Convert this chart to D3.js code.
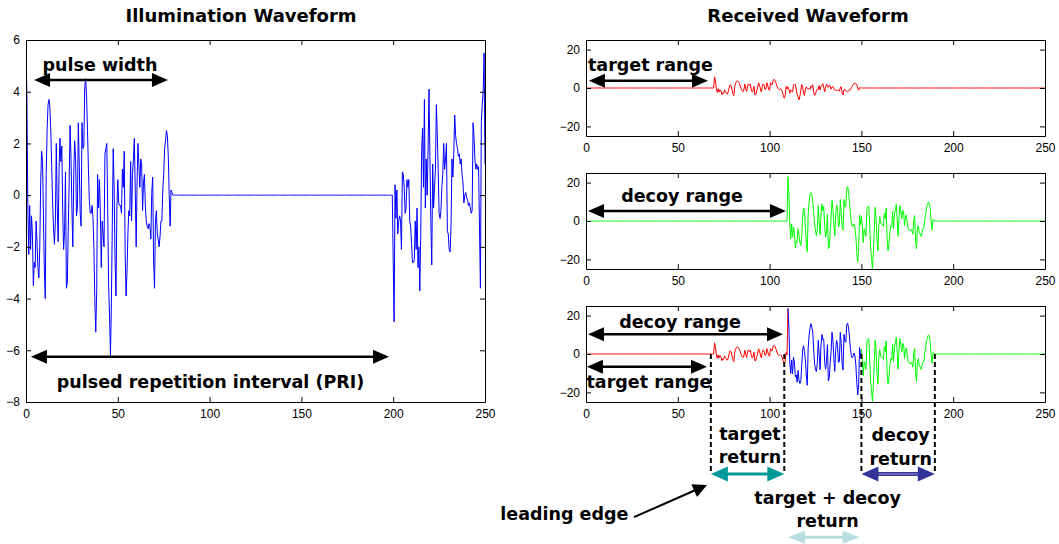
<!DOCTYPE html>
<html>
<head>
<meta charset="utf-8">
<script src="https://cdn.jsdelivr.net/npm/d3@7/dist/d3.min.js"></script>
<style>
body { margin: 0; background: #fff; }
svg text { font-family: "DejaVu Sans", Verdana, sans-serif; }
.tick text { font-family: "Liberation Sans", Arial, sans-serif; font-size: 12px; fill: #000; }
.tick line, .domain { stroke: #000; }
</style>
</head>
<body>
<svg id="chart" width="1059" height="544"></svg>
<script>
// samples every half unit
const step = 0.5
// first pulse, t = 0 .. 80
const pulseA = [
  5.8, 3.7, -0.4, -2.3, -0.4, -2.1, -0.8, -1.5, -3.5, -2.6,
  -2.8, -1.0, -1.8, -2.8, -3.2, -2.0, 0.5, 1.7, 1.3, -0.8,
  -2.9, -4.0, 0.8, 2.5, 3.5, 3.7, 3.4, 2.5, 1.1, -0.3,
  -1.3, -1.9, -1.0, 2.0, -0.4, -1.8, 1.0, 2.2, 1.3, 1.9,
  -0.6, -2.1, -1.4, 0.9, -3.6, -3.4, -1.4, 0.5, 2.7, 1.5,
  -0.5, -2.0, 0.8, 2.1, 1.5, -0.8, -0.5, 2.8, 1.2, -0.7,
  -1.2, 2.8, 1.8, 1.9, 4.2, 4.5, 3.8, 2.5, 1.0, -0.2,
  -0.7, -0.7, -0.4, -0.9, -2.1, -4.1, -5.3, -3.7, 0.8, -0.5,
  0.6, -0.7, -2.8, -1.0, -1.5, -2.0, 1.6, 1.8, 2.0, -0.5,
  -3.5, -4.6, -6.2, -4.2, -1.2, 1.8, 0.3, -2.5, -3.9, -0.5,
  0.6, -0.3, -0.4, -0.4, -0.7, 1.0, 0.3, 1.7, -2.2, -3.9,
  -3.0, -1.5, -0.6, -0.8, 1.3, -1.0, 0.8, 1.4, 2.2, 0.2,
  -2.0, 0.5, 2.0, 1.2, 0.3, 1.4, 1.2, -0.6, 0.5, 0.8,
  -0.4, -1.0, -1.2, -1.3, -1.1, -1.2, -1.7, 0.1, 0.7, -2.5,
  -3.6, -1.0, -0.6, -1.5, -1.7, -2.0, -1.6, -1.0, -1.0, 0.2,
  0.8, 1.8, 2.1, 2.5, 2.3, 1.5, 0.0, -1.2, 0.2, 0.1,
  0.0
]
// next pulse, t = 200 .. 250
const pulseB = [
  -2.5, -4.9, 0.4, -0.9, 0.2, -1.5, -1.0, -0.8, -1.0, -2.1,
  0.9, 0.8, 0.3, -0.7, -0.5, 0.6, 0.3, 0.6, -1.0, -1.2,
  -1.9, -2.6, -2.6, -2.5, -1.0, -2.1, -0.5, -2.8, -2.0, -3.7,
  -1.5, 1.7, 2.6, 0.3, 3.7, -0.5, 1.4, 0.0, 1.8, 4.1,
  1.5, -1.0, -2.7, 1.2, -0.5, 0.3, 1.0, 3.5, 2.4, 1.0,
  -0.7, -0.9, -0.6, 0.3, 0.8, 2.0, 1.0, 1.4, 2.0, -1.4,
  -1.5, -2.1, -2.2, -1.2, 1.4, 0.7, 1.6, 3.1, 2.3, 2.0,
  1.8, 1.5, 1.6, 1.2, 1.4, 0.8, 0.5, -0.3, 0.0, 0.1,
  -0.1, -0.2, -0.4, -0.3, -0.5, -0.7, -0.6, 2.8, 2.3, 1.4,
  1.0, 1.2, 1.0, 1.1, -1.2, -3.6, 2.8, 3.5, 4.0, 5.5,
  1.2
]
const pri = 200
const tEnd = 250
const targetDelay = 70, targetGain = 1
const decoyDelay = 110, decoyGain = 4

const xTicks = [0, 50, 100, 150, 200, 250]
const illumTicks = [-8, -6, -4, -2, 0, 2, 4, 6]
const recvTicks = [-20, 0, 20]

const times = d3.range(0, tEnd / step + 1).map(i => i * step)

function echo(t, delay, gain) {
    let i = Math.round((t - delay) / step)
    return (i >= 0 && i < pulseA.length) ? gain * pulseA[i] : 0
}
const illum = times.map(t => {
    if (t >= pri) return [t, pulseB[Math.round((t - pri) / step)]]
    return [t, echo(t, 0, 1)]
})
const target = times.map(t => [t, echo(t, targetDelay, targetGain)])
const decoy = times.map(t => [t, echo(t, decoyDelay, decoyGain)])
const both = times.map(t => [t, echo(t, targetDelay, targetGain) + echo(t, decoyDelay, decoyGain)])

const svg = d3.select('#chart')

/* axes box, MATLAB style ticks pointing inside */
function frame(g, x, y, yTicks) {
    const [x0, x1] = x.range(), [y1, y0] = y.range()
    g.append('g').attr('transform', `translate(0,${y1})`)
        .call(d3.axisBottom(x).tickValues(xTicks).tickSizeInner(-5).tickSizeOuter(0).tickPadding(7))
    g.append('g').attr('transform', `translate(0,${y0})`)
        .call(d3.axisTop(x).tickValues(xTicks).tickSizeInner(-5).tickSizeOuter(0).tickFormat(''))
    g.append('g').attr('transform', `translate(${x0},0)`)
        .call(d3.axisLeft(y).tickValues(yTicks).tickSizeInner(-5).tickSizeOuter(0).tickPadding(6))
    g.append('g').attr('transform', `translate(${x1},0)`)
        .call(d3.axisRight(y).tickValues(yTicks).tickSizeInner(-5).tickSizeOuter(0).tickFormat(''))
    g.selectAll('.tick text').attr('font-family', null).attr('font-size', null)
}

let clipN = 0
function trace(g, x, y, data, color) {
    const id = 'clip' + (clipN++)
    g.append('clipPath').attr('id', id).append('rect')
        .attr('x', x.range()[0]).attr('y', y.range()[1])
        .attr('width', x.range()[1] - x.range()[0]).attr('height', y.range()[0] - y.range()[1])
    g.append('path').datum(data)
        .attr('clip-path', `url(#${id})`)
        .attr('fill', 'none').attr('stroke', color).attr('stroke-width', 1)
        .attr('d', d3.line().x(d => x(d[0])).y(d => y(d[1])))
}

function arrow(g, p1, p2, o) {
    const col = o.color || '#000', head = o.head || 16, half = o.half || 7
    const dx = p2[0] - p1[0], dy = p2[1] - p1[1], L = Math.hypot(dx, dy)
    const ux = dx / L, uy = dy / L, nx = -uy, ny = ux
    const a = o.both ? [p1[0] + ux * head * 0.8, p1[1] + uy * head * 0.8] : p1
    const b = [p2[0] - ux * head * 0.8, p2[1] - uy * head * 0.8]
    g.append('line').attr('x1', a[0]).attr('y1', a[1]).attr('x2', b[0]).attr('y2', b[1])
        .attr('stroke', col).attr('stroke-width', o.width || 2.5)
    if (o.inner) {
        g.append('line').attr('x1', a[0]).attr('y1', a[1]).attr('x2', b[0]).attr('y2', b[1])
            .attr('stroke', o.inner).attr('stroke-width', 1)
    }
    const tips = o.both ? [[p2, 1], [p1, -1]] : [[p2, 1]]
    tips.forEach(([p, s]) => {
        const bx = p[0] - s * ux * head, by = p[1] - s * uy * head
        g.append('polygon')
            .attr('points', [[p[0], p[1]], [bx + nx * half, by + ny * half], [bx - nx * half, by - ny * half]].join(' '))
            .attr('fill', col)
    })
}

function label(g, px, py, txt, size) {
    g.append('text').attr('x', px).attr('y', py)
        .attr('text-anchor', 'middle')
        .attr('font-weight', 'bold').attr('font-size', size || 17.5)
        .text(txt)
}

/* Illumination waveform */
const xL = d3.scaleLinear().domain([0, 250]).range([26, 485])
const yL = d3.scaleLinear().domain([-8, 6]).range([402, 40])
const gL = svg.append('g')
trace(gL, xL, yL, illum, '#0000ff')
frame(gL, xL, yL, illumTicks)
label(gL, 241, 22, 'Illumination Waveform', 18)

arrow(gL, [xL(4.4), yL(4.45)], [xL(77.3), yL(4.45)], { both: true })
label(gL, xL(40.3), yL(4.8), 'pulse width')
arrow(gL, [xL(2.7), yL(-6.25)], [xL(197.7), yL(-6.25)], { both: true })
label(gL, xL(100.5), yL(-7.46), 'pulsed repetition interval (PRI)')

/* Received waveform, three panels */
const xR = d3.scaleLinear().domain([0, 250]).range([586, 1045])
const tops = [40, 173, 306]
const yR = tops.map(t => d3.scaleLinear().domain([-25, 25]).range([t + 96, t]))
svg.append('text').attr('x', 808).attr('y', 22).attr('text-anchor', 'middle')
    .attr('font-weight', 'bold').attr('font-size', 18).text('Received Waveform')

const g1 = svg.append('g')
trace(g1, xR, yR[0], target, '#ff0000')
frame(g1, xR, yR[0], recvTicks)
arrow(g1, [xR(1.6), yR[0](3.8)], [xR(66.4), yR[0](3.8)], { both: true })
label(g1, xR(35.1), yR[0](8.85), 'target range')

const g2 = svg.append('g')
trace(g2, xR, yR[1], decoy, '#00ff00')
frame(g2, xR, yR[1], recvTicks)
arrow(g2, [xR(1.1), yR[1](5.2)], [xR(108.9), yR[1](5.2)], { both: true })
label(g2, xR(52.3), yR[1](10), 'decoy range')

const g3 = svg.append('g')
const y3 = yR[2]
trace(g3, xR, y3, both.filter(d => d[0] <= decoyDelay), '#ff0000')
trace(g3, xR, y3, both.filter(d => d[0] >= decoyDelay && d[0] <= targetDelay + 80), '#0000ff')
trace(g3, xR, y3, both.filter(d => d[0] >= targetDelay + 80), '#00ff00')
frame(g3, xR, y3, recvTicks)
arrow(g3, [xR(1.1), y3(10.3)], [xR(107.3), y3(10.3)], { both: true })
label(g3, xR(51.2), y3(13.3), 'decoy range')
arrow(g3, [xR(0.5), y3(-6.6)], [xR(65.9), y3(-6.6)], { both: true })
label(g3, xR(34.3), y3(-17.8), 'target range')

// return windows
const edges = [68, 108, 150, 190]
g3.selectAll('.edge').data(edges).enter().append('line')
    .attr('class', 'edge')
    .attr('x1', d => xR(d)).attr('x2', d => xR(d))
    .attr('y1', y3(0)).attr('y2', y3(-62.5))
    .attr('stroke', '#000').attr('stroke-width', 2).attr('stroke-dasharray', '5,3')

arrow(g3, [xR(68), y3(-62.5)], [xR(108), y3(-62.5)], { both: true, color: '#009999', width: 3, head: 17, half: 7.5 })
label(g3, xR(89.3), y3(-44.8), 'target')
label(g3, xR(89.3), y3(-57), 'return')
arrow(g3, [xR(150), y3(-62.5)], [xR(190), y3(-62.5)], { both: true, color: '#333399', width: 4, inner: '#9999cc', head: 17, half: 7.5 })
label(g3, xR(171.4), y3(-45.5), 'decoy')
label(g3, xR(171.4), y3(-58), 'return')
label(g3, xR(131.6), y3(-77.9), 'target + decoy')
label(g3, xR(131.6), y3(-90.2), 'return')
arrow(g3, [xR(110), y3(-95.5)], [xR(149), y3(-95.5)], { both: true, color: '#b7dfe3', width: 3, head: 17, half: 6.5 })
label(g3, xR(-11.8), y3(-86.7), 'leading edge')
arrow(g3, [xR(26.1), y3(-85)], [xR(65.9), y3(-68.2)], { width: 2, head: 14, half: 7 })
</script>
</body>
</html>
